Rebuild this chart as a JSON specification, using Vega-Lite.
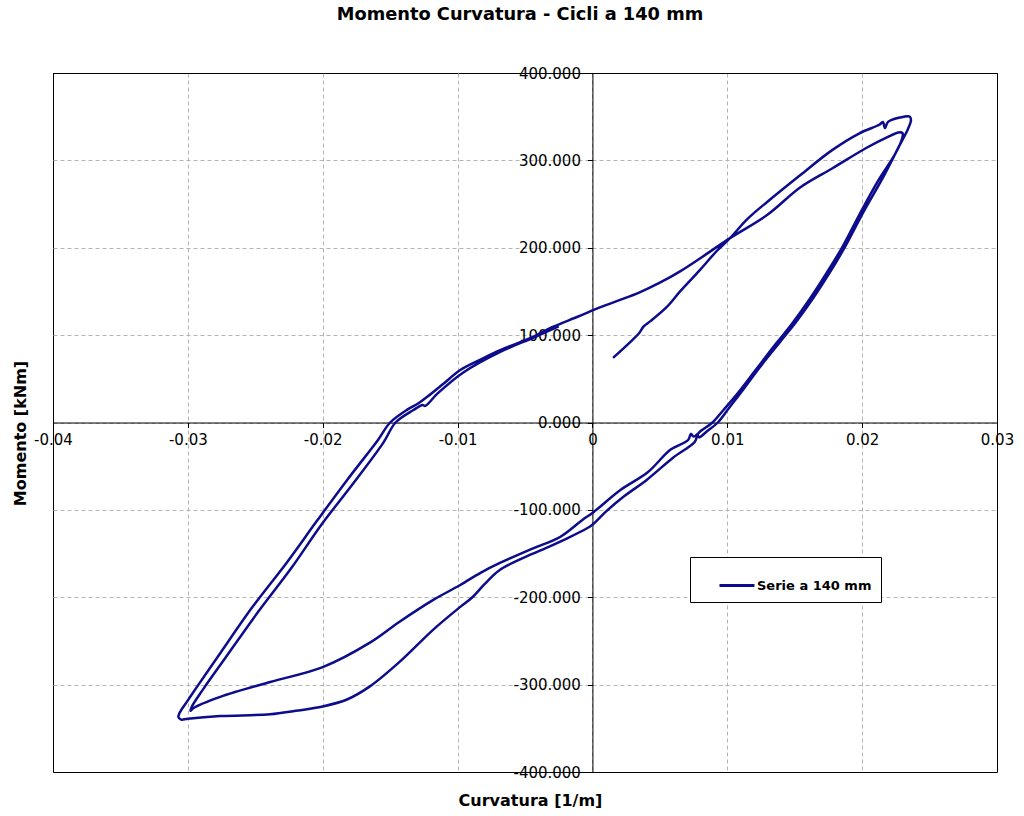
{
  "$schema": "https://vega.github.io/schema/vega-lite/v6.json",
  "autosize": "none",
  "width": 944,
  "height": 699,
  "padding": {"left": 53, "top": 73, "right": 27, "bottom": 44},
  "background": "white",
  "title": {"text": "Momento Curvatura - Cicli a 140 mm", "font": "DejaVu Sans", "fontSize": 17.8, "fontWeight": "bold", "color": "black", "anchor": "middle", "frame": "group", "baseline": "alphabetic", "offset": 28, "dx": -5},
  "config": {"view": {"stroke": "black", "strokeWidth": 1}},
  "data": {"values": [
    {"o":0,"c":0.00153,"m":74},{"o":1,"c":0.0028,"m":92},{"o":2,"c":0.0035,"m":103},{"o":3,"c":0.0038,"m":110},{"o":4,"c":0.0043,"m":116},{"o":5,"c":0.0055,"m":132},{"o":6,"c":0.0065,"m":150},{"o":7,"c":0.008,"m":175},{"o":8,"c":0.0092,"m":196},{"o":9,"c":0.0102,"m":211},{"o":10,"c":0.0115,"m":233},{"o":11,"c":0.013,"m":253},{"o":12,"c":0.0154,"m":283},{"o":13,"c":0.0178,"m":312},{"o":14,"c":0.0198,"m":331},{"o":15,"c":0.0213,"m":341},{"o":16,"c":0.02154,"m":344},{"o":17,"c":0.02169,"m":337},{"o":18,"c":0.02192,"m":344},{"o":19,"c":0.0228,"m":349},{"o":20,"c":0.02354,"m":350},{"o":21,"c":0.02362,"m":346},
    {"o":22,"c":0.0234,"m":336},{"o":23,"c":0.0228,"m":318},{"o":24,"c":0.0216,"m":282},{"o":25,"c":0.0201,"m":241},{"o":26,"c":0.0188,"m":203},{"o":27,"c":0.0177,"m":174},{"o":28,"c":0.0164,"m":143},{"o":29,"c":0.0151,"m":115},{"o":30,"c":0.0139,"m":92},{"o":31,"c":0.0124,"m":63},{"o":32,"c":0.0111,"m":36},{"o":33,"c":0.0101,"m":16},{"o":34,"c":0.0093,"m":0},{"o":35,"c":0.0085,"m":-10},{"o":36,"c":0.0079,"m":-17},{"o":37,"c":0.0078,"m":-14},{"o":38,"c":0.0076,"m":-22},{"o":39,"c":0.006,"m":-40},{"o":40,"c":0.004,"m":-66},{"o":41,"c":0.0023,"m":-85},{"o":42,"c":0.001,"m":-102},{"o":43,"c":0.0,"m":-117},
    {"o":44,"c":-0.0004,"m":-121},{"o":45,"c":-0.0018,"m":-132},{"o":46,"c":-0.0032,"m":-142},{"o":47,"c":-0.005,"m":-154},{"o":48,"c":-0.0069,"m":-169},{"o":49,"c":-0.008,"m":-185},{"o":50,"c":-0.0089,"m":-200},{"o":51,"c":-0.0098,"m":-211},{"o":52,"c":-0.0118,"m":-237},{"o":53,"c":-0.0143,"m":-274},{"o":54,"c":-0.0165,"m":-302},{"o":55,"c":-0.0182,"m":-317},{"o":56,"c":-0.02,"m":-325},{"o":57,"c":-0.022,"m":-330},{"o":58,"c":-0.0239,"m":-334},{"o":59,"c":-0.0276,"m":-336},{"o":60,"c":-0.03,"m":-339},{"o":61,"c":-0.0305,"m":-340},{"o":62,"c":-0.0307,"m":-337},
    {"o":63,"c":-0.0306,"m":-332},{"o":64,"c":-0.03,"m":-318},{"o":65,"c":-0.0293,"m":-302},{"o":66,"c":-0.0276,"m":-264},{"o":67,"c":-0.0252,"m":-211},{"o":68,"c":-0.0227,"m":-161},{"o":69,"c":-0.0204,"m":-112},{"o":70,"c":-0.0182,"m":-66},{"o":71,"c":-0.0159,"m":-20},{"o":72,"c":-0.015,"m":0},{"o":73,"c":-0.0137,"m":15},{"o":74,"c":-0.0129,"m":22},{"o":75,"c":-0.0122,"m":30},{"o":76,"c":-0.011,"m":45},{"o":77,"c":-0.0098,"m":60},{"o":78,"c":-0.0083,"m":72},{"o":79,"c":-0.0068,"m":83},{"o":80,"c":-0.0044,"m":98},{"o":81,"c":-0.003,"m":109},{"o":82,"c":-0.0011,"m":121},{"o":83,"c":0.0006,"m":132},{"o":84,"c":0.002,"m":140},{"o":85,"c":0.0035,"m":149},{"o":86,"c":0.005,"m":160},{"o":87,"c":0.0065,"m":173},{"o":88,"c":0.008,"m":188},{"o":89,"c":0.0102,"m":211},{"o":90,"c":0.013,"m":238},{"o":91,"c":0.0154,"m":269},{"o":92,"c":0.0178,"m":291},{"o":93,"c":0.0204,"m":315},{"o":94,"c":0.0218,"m":326},{"o":95,"c":0.0227,"m":332},{"o":96,"c":0.023,"m":331},
    {"o":97,"c":0.0229,"m":322},{"o":98,"c":0.0224,"m":306},{"o":99,"c":0.0212,"m":277},{"o":100,"c":0.0198,"m":238},{"o":101,"c":0.0185,"m":200},{"o":102,"c":0.0174,"m":172},{"o":103,"c":0.0161,"m":141},{"o":104,"c":0.0148,"m":113},{"o":105,"c":0.0136,"m":90},{"o":106,"c":0.0121,"m":60},{"o":107,"c":0.0108,"m":34},{"o":108,"c":0.0097,"m":14},{"o":109,"c":0.0089,"m":0},{"o":110,"c":0.0081,"m":-9},{"o":111,"c":0.0075,"m":-16},{"o":112,"c":0.0073,"m":-13},{"o":113,"c":0.0071,"m":-20},{"o":114,"c":0.0058,"m":-31},{"o":115,"c":0.0041,"m":-57},{"o":116,"c":0.0021,"m":-77},{"o":117,"c":0.0,"m":-103.5},
    {"o":118,"c":-0.0007,"m":-111},{"o":119,"c":-0.0024,"m":-131},{"o":120,"c":-0.0044,"m":-144},{"o":121,"c":-0.0069,"m":-161},{"o":122,"c":-0.0083,"m":-172},{"o":123,"c":-0.0098,"m":-186},{"o":124,"c":-0.0118,"m":-203},{"o":125,"c":-0.0143,"m":-228},{"o":126,"c":-0.0165,"m":-252},{"o":127,"c":-0.02,"m":-280},{"o":128,"c":-0.0239,"m":-297},{"o":129,"c":-0.0276,"m":-314},{"o":130,"c":-0.0296,"m":-327},{"o":131,"c":-0.0298,"m":-330},
    {"o":132,"c":-0.0297,"m":-325},{"o":133,"c":-0.0289,"m":-306},{"o":134,"c":-0.0272,"m":-269},{"o":135,"c":-0.0248,"m":-217},{"o":136,"c":-0.0223,"m":-166},{"o":137,"c":-0.0201,"m":-117},{"o":138,"c":-0.0178,"m":-71},{"o":139,"c":-0.0155,"m":-23},{"o":140,"c":-0.0146,"m":0},{"o":141,"c":-0.0133,"m":14},{"o":142,"c":-0.0126,"m":20},{"o":143,"c":-0.0124,"m":19},{"o":144,"c":-0.0115,"m":33},{"o":145,"c":-0.0096,"m":57},{"o":146,"c":-0.0068,"m":81},{"o":147,"c":-0.0044,"m":97},{"o":148,"c":-0.0025,"m":110}
  ]},
  "mark": {"type": "line", "strokeWidth": 2.5, "interpolate": "catmull-rom", "clip": true},
  "encoding": {
    "x": {"field": "c", "type": "quantitative",
      "scale": {"domain": [-0.04, 0.03], "nice": false, "zero": false},
      "axis": {"values": [-0.04, -0.03, -0.02, -0.01, 0, 0.01, 0.02, 0.03],
        "labelExpr": "replace(format(datum.value, '~g'), '\u2212', '-')",
        "orient": "bottom", "offset": -349.5,
        "domainColor": "black", "domainWidth": 1, "tickColor": "black", "tickSize": 5,
        "labelFont": "DejaVu Sans", "labelFontSize": 15, "labelColor": "black", "labelPadding": 5,
        "labelOverlap": false, "labelBound": false, "labelFlush": false,
        "grid": true, "gridDash": [4, 3], "gridWidth": 1,
        "gridColor": {"condition": {"test": "datum.value <= -0.039 || datum.value >= 0.029", "value": "black"}, "value": "#b4b4b4"},
        "title": "Curvatura [1/m]", "titleFont": "DejaVu Sans", "titleFontSize": 16, "titleFontWeight": "bold", "titleColor": "black",
        "titleX": 477, "titleY": 378, "titleAlign": "center", "titleBaseline": "middle"}},
    "y": {"field": "m", "type": "quantitative",
      "scale": {"domain": [-400, 400], "nice": false, "zero": false},
      "axis": {"values": [-400, -300, -200, -100, 0, 100, 200, 300, 400],
        "labelExpr": "replace(format(datum.value, '.3f'), '\u2212', '-')",
        "orient": "left", "offset": -539.43,
        "domainColor": "black", "domainWidth": 1, "tickColor": "black", "tickSize": 5,
        "labelFont": "DejaVu Sans", "labelFontSize": 15, "labelColor": "black", "labelPadding": 7,
        "labelOverlap": false, "labelBound": false, "labelFlush": false,
        "grid": true, "gridDash": [4, 3], "gridWidth": 1,
        "gridColor": {"condition": {"test": "abs(datum.value) >= 399", "value": "black"}, "value": "#b4b4b4"},
        "title": "Momento [kNm]", "titleFont": "DejaVu Sans", "titleFontSize": 16, "titleFontWeight": "bold", "titleColor": "black",
        "titleX": -572, "titleY": 360, "titleAngle": -90, "titleAlign": "center", "titleBaseline": "middle"}},
    "order": {"field": "o", "type": "quantitative"},
    "color": {"datum": "Serie a 140 mm", "type": "nominal",
      "scale": {"range": ["#0c0c8c"]},
      "legend": {"title": null, "orient": "none", "legendX": 637, "legendY": 484,
        "fillColor": "white", "strokeColor": "black", "padding": 9.5,
        "symbolType": "stroke", "symbolSize": 1225, "symbolStrokeWidth": 3, "symbolOffset": 18.5,
        "labelExpr": "datum.label + '\u00a0\u00a0\u00a0\u00a0\u00a0\u00a0\u00a0\u00a0\u00a0'",
        "labelFont": "DejaVu Sans", "labelFontSize": 13, "labelFontWeight": "bold", "labelColor": "black", "labelOffset": 1}}
  }
}
